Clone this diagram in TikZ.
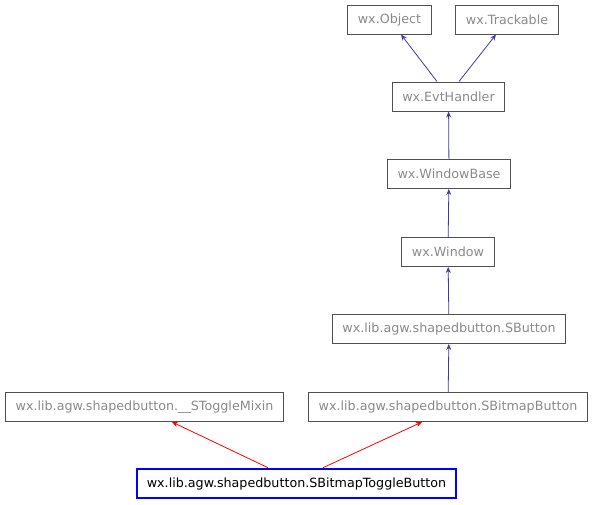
\documentclass[tikz,border=0pt]{standalone}
\usepackage{fontspec}
\setmainfont{DejaVu Sans}
\usepackage{tikz}
\usetikzlibrary{arrows.meta}
\usepackage{xcolor}
\definecolor{edgeblue}{HTML}{3C3CA0}
\definecolor{boxtext}{HTML}{8A8A8A}
\definecolor{boxline}{HTML}{505050}
\tikzset{
  cls/.style={draw=boxline, line width=1pt, text=boxtext, inner xsep=10pt,
    minimum height=29pt, font=\fontsize{12.7}{14}\selectfont},
  focus/.style={cls, draw=blue, line width=2.6pt, text=black},
  inherit/.style={edgeblue, line width=0.8pt, -{Stealth[length=6pt,width=5pt]}},
  mixin/.style={red, line width=0.8pt, -{Stealth[length=6pt,width=5pt]}}
}
\begin{document}
\begin{tikzpicture}[x=1pt,y=-1pt]
          \useasboundingbox (0,0) rectangle (594,504);
          \node[cls] (obj) at (389.5,19.5) {wx.Object};
          \node[cls] (track) at (507,19.5) {wx.Trackable};
          \node[cls] (evt) at (448.5,96.5) {wx.EvtHandler};
          \node[cls] (winbase) at (449,174) {wx.WindowBase};
          \node[cls] (win) at (448,252) {wx.Window};
          \node[cls] (sbtn) at (449,329) {wx.lib.agw.shapedbutton.SButton};
          \node[cls] (toggle) at (144.5,407) {wx.lib.agw.shapedbutton.\_\_SToggleMixin};
          \node[cls] (bmp) at (448,407) {wx.lib.agw.shapedbutton.SBitmapButton};
          \node[focus] (tog) at (296.5,483.5) {wx.lib.agw.shapedbutton.SBitmapToggleButton};
          \draw[inherit] ([xshift=-11.5pt]evt.north) -- ([xshift=11.5pt]obj.south);
          \draw[inherit] ([xshift=10.5pt]evt.north) -- ([xshift=-11pt]track.south);
          \draw[inherit] (winbase) -- (evt);
          \draw[inherit] (win) -- (winbase);
          \draw[inherit] (sbtn) -- (win);
          \draw[inherit] (bmp) -- (sbtn);
          \draw[mixin] ([xshift=-28.5pt]tog.north) -- ([xshift=27.5pt]toggle.south);
          \draw[mixin] ([xshift=26.5pt]tog.north) -- ([xshift=-26pt]bmp.south);
        \end{tikzpicture}
\end{document}
